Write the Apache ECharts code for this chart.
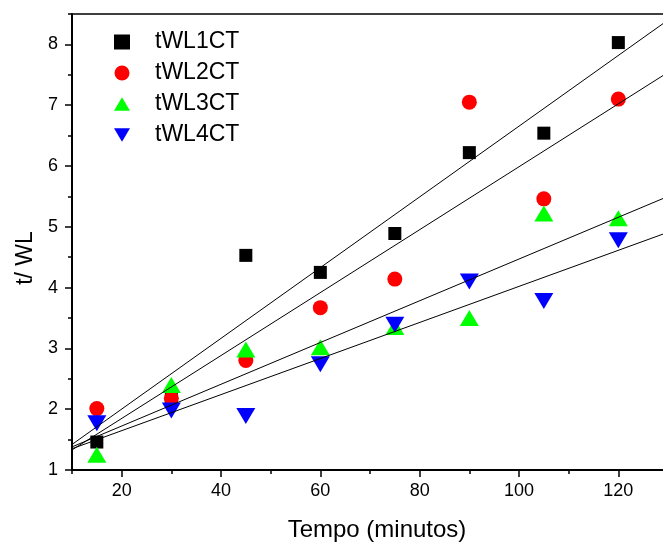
<!DOCTYPE html>
<html>
<head>
<meta charset="utf-8">
<script src="https://cdn.jsdelivr.net/npm/echarts@6/dist/echarts.min.js"></script>
<style>html,body{margin:0;padding:0;background:#fff}#c{width:663px;height:545px}</style>
</head>
<body>
<div id="c"></div>
<script>
var xValues = [15, 30, 45, 60, 75, 90, 105, 120];
var tWL1CT = [1.46, 2.2, 4.53, 4.25, 4.89, 6.22, 6.54, 8.03];
var tWL2CT = [2.01, 2.18, 2.8, 3.67, 4.14, 7.05, 5.46, 7.1];
var tWL3CT = [1.25, 2.4, 2.98, 3.02, 3.35, 3.5, 5.22, 5.14];
var tWL4CT = [1.77, 1.98, 1.89, 2.74, 3.39, 4.1, 3.78, 4.78];
var seriesNames = ['tWL1CT', 'tWL2CT', 'tWL3CT', 'tWL4CT'];
// fitted straight lines, read at x = 10 and x = 130
var fitX = [10, 130];
var fitStart = [1.42, 1.33, 1.38, 1.35];
var fitEnd = [8.40, 7.54, 5.50, 4.91];
var xMajorTicks = [20, 40, 60, 80, 100, 120];
var xMinorTicks = [10, 30, 50, 70, 90, 110, 130];
var yMinorTicks = [1.5, 2.5, 3.5, 4.5, 5.5, 6.5, 7.5, 8.5];

var FONT = "'Liberation Sans', Arial, sans-serif";
function pairs(ys) { return xValues.map(function (x, i) { return [x, ys[i]]; }); }

var styles = [
  { symbol: 'rect', size: 13, color: '#000000', rotate: 0, icon: 'rect' },
  { symbol: 'circle', size: 15, color: '#ff0000', rotate: 0, icon: 'circle' },
  { symbol: 'triangle', size: [19, 16], color: '#00ff00', rotate: 0, icon: 'path://M0,17L10,0L20,17Z' },
  { symbol: 'triangle', size: [19, 16], color: '#0000ff', rotate: 180, icon: 'path://M0,0L20,0L10,17Z' }
];
var allData = [tWL1CT, tWL2CT, tWL3CT, tWL4CT];

var series = allData.map(function (d, i) {
  return {
    name: seriesNames[i], type: 'scatter', data: pairs(d),
    symbol: styles[i].symbol, symbolSize: styles[i].size, symbolRotate: styles[i].rotate,
    itemStyle: { color: styles[i].color, opacity: 1 },
    emphasis: { disabled: true }, z: 3 + i
  };
});
fitStart.forEach(function (s, i) {
  series.push({
    name: 'fit' + (i + 1), type: 'line', data: [[fitX[0], s], [fitX[1], fitEnd[i]]],
    symbol: 'none', lineStyle: { color: '#000', width: 1 }, silent: true, z: 10, clip: true
  });
});

var chart = echarts.init(document.getElementById('c'), null, { renderer: 'canvas' });
chart.setOption({
  animation: false,
  backgroundColor: '#fff',
  textStyle: { fontFamily: FONT },
  grid: { left: 72, top: 14, width: 596, bottom: 75, outerBoundsMode: 'none', containLabel: false, show: true, borderColor: '#000', borderWidth: 1.5, backgroundColor: 'transparent' },
  legend: {
    data: seriesNames.map(function (n, i) { return { name: n, icon: styles[i].icon }; }),
    orient: 'vertical', left: 109, top: 25,
    itemWidth: 16, itemHeight: 15, itemGap: 7,
    symbolRotate: 0,
    textStyle: { fontFamily: FONT, fontSize: 23, color: '#000', lineHeight: 24, padding: [0, 0, 0, 20] },
    selectedMode: false
  },
  xAxis: [{
    type: 'value', min: 10, max: 130, position: 'bottom',
    name: 'Tempo (minutos)', nameLocation: 'middle', nameGap: 48,
    nameTextStyle: { fontFamily: FONT, fontSize: 24, color: '#000', padding: [0, 0, 0, 14] },
    axisLine: { show: true, onZero: false, lineStyle: { color: '#000', width: 2 } },
    axisTick: { show: true, inside: false, length: 7, lineStyle: { color: '#000', width: 1.5 }, customValues: xMajorTicks },
    axisLabel: { fontFamily: FONT, fontSize: 18, color: '#000', margin: 12, customValues: xMajorTicks },
    splitLine: { show: false }
  }, {
    type: 'value', min: 10, max: 130, position: 'bottom',
    axisLine: { show: false },
    axisTick: { show: true, inside: false, length: 4, lineStyle: { color: '#000', width: 1.5 }, customValues: xMinorTicks },
    axisLabel: { show: false },
    splitLine: { show: false }
  }],
  yAxis: [{
    type: 'value', min: 1, max: 8.5, interval: 1, position: 'left',
    name: 't/ WL', nameLocation: 'middle', nameGap: 35,
    nameTextStyle: { fontFamily: FONT, fontSize: 23, color: '#000', padding: [0, 32, 0, 0] },
    axisLine: { show: true, onZero: false, lineStyle: { color: '#000', width: 2 } },
    axisTick: { show: true, inside: false, length: 7, lineStyle: { color: '#000', width: 1.5 } },
    axisLabel: { fontFamily: FONT, fontSize: 18, color: '#000', margin: 14, showMaxLabel: false },
    splitLine: { show: false }
  }, {
    type: 'value', min: 1, max: 8.5, position: 'left',
    axisLine: { show: false },
    axisTick: { show: true, inside: false, length: 4, lineStyle: { color: '#000', width: 1.5 }, customValues: yMinorTicks },
    axisLabel: { show: false },
    splitLine: { show: false }
  }],
  series: series
});
</script>
</body>
</html>
